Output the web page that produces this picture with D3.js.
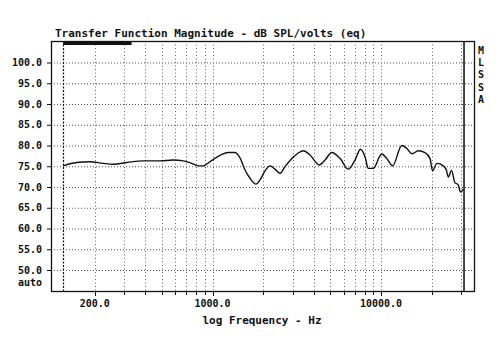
<!DOCTYPE html>
<html>
<head>
<meta charset="utf-8">
<script src="https://cdn.jsdelivr.net/npm/d3@7"></script>
<style>
  html, body { margin: 0; padding: 0; background: #fff; }
  svg { display: block; }
  text { font-family: "DejaVu Sans Mono", "Liberation Mono", monospace; font-weight: bold; fill: #111; }
</style>
</head>
<body>
<svg id="chart" width="500" height="350"></svg>
<script>
// ---- data ----
const title = "Transfer Function Magnitude - dB SPL/volts (eq)";
const xAxisTitle = "log Frequency - Hz";
const sideLabel = ["M", "L", "S", "S", "A"];
const freqHz = [130, 156, 187.5, 225, 258, 310, 388, 488, 585, 671, 753, 824, 882, 967,
  1063, 1242, 1360, 1456, 1560, 1670, 1811, 1914, 2050, 2194, 2350, 2517, 2694, 2884,
  3230, 3459, 3791, 4306, 4656, 5099, 5711, 6399, 7015, 7554, 8035, 8408, 9000,
  10092, 10810, 11730, 13270, 14210, 15290, 16650, 18240, 19530, 20230, 21490, 22600,
  24320, 25080, 26200, 27480, 28640, 29640, 30780];
const magDb = [75.1, 75.9, 76.1, 75.7, 75.5, 75.9, 76.3, 76.3, 76.5, 76.3, 75.7, 75.1, 75.1, 76.1,
  77.2, 78.3, 78.3, 77.0, 74.1, 72.1, 70.7, 71.7, 73.9, 75.1, 74.3, 73.3, 74.9, 76.4,
  78.2, 78.75, 77.7, 75.3, 76.5, 78.3, 76.9, 74.3, 76.5, 79.1, 77.3, 74.5, 74.5,
  77.95, 76.9, 75.1, 80.0, 79.3, 78.0, 78.75, 78.3, 76.9, 73.9, 75.7, 75.5,
  74.3, 72.4, 74.0, 71.0, 70.6, 68.8, 69.5];
const yTicks = [50, 55, 60, 65, 70, 75, 80, 85, 90, 95, 100];
const yTickLabels = ["50.0", "55.0", "60.0", "65.0", "70.0", "75.0", "80.0", "85.0", "90.0", "95.0", "100.0"];
const yAutoLabel = "auto";
const xGridFreqs = [200, 300, 400, 500, 600, 700, 800, 900, 1000, 2000, 3000, 4000, 5000,
  6000, 7000, 8000, 9000, 10000, 20000, 30000];
const xLabeledFreqs = [200, 1000, 10000];
const xTickLabels = ["200.0", "1000.0", "10000.0"];
const startFreq = 130;
const endFreq = 31100;
const markerBar = [130, 331];

// ---- layout ----
const svg = d3.select("#chart");
const frame = { left: 51, right: 474, top: 41, bottom: 291 };

const x = d3.scaleLog().domain([1000, 10000]).range([212.5, 381]);
const y = d3.scaleLinear().domain([50, 100]).range([270, 62.5]);

// horizontal gridlines
svg.append("g").selectAll("line").data(yTicks).join("line")
  .attr("x1", frame.left).attr("x2", frame.right)
  .attr("y1", d => y(d) + 0.5).attr("y2", d => y(d) + 0.5)
  .attr("stroke", "#555").attr("stroke-width", 1).attr("stroke-dasharray", "1,2");

// vertical gridlines
svg.append("g").selectAll("line").data(xGridFreqs).join("line")
  .attr("x1", d => Math.round(x(d)) + 0.5).attr("x2", d => Math.round(x(d)) + 0.5)
  .attr("y1", frame.top).attr("y2", frame.bottom)
  .attr("stroke", "#666").attr("stroke-width", 1).attr("stroke-dasharray", "1,2.5");

// start line
svg.append("line")
  .attr("x1", Math.round(x(startFreq)) + 0.5).attr("x2", Math.round(x(startFreq)) + 0.5)
  .attr("y1", frame.top).attr("y2", frame.bottom)
  .attr("stroke", "#111").attr("stroke-width", 1.2).attr("stroke-dasharray", "2,1.5");

// end line
svg.append("line")
  .attr("x1", x(endFreq)).attr("x2", x(endFreq))
  .attr("y1", frame.top).attr("y2", frame.bottom)
  .attr("stroke", "#333").attr("stroke-width", 1.8);

// frame
svg.append("rect")
  .attr("x", frame.left + 0.5).attr("y", frame.top + 0.5)
  .attr("width", frame.right - frame.left).attr("height", frame.bottom - frame.top)
  .attr("fill", "none").attr("stroke", "#111").attr("stroke-width", 1.3);

// marker bar
svg.append("rect")
  .attr("x", x(markerBar[0])).attr("y", frame.top + 1)
  .attr("width", x(markerBar[1]) - x(markerBar[0])).attr("height", 3)
  .attr("fill", "#111");

// y ticks & labels
svg.append("g").selectAll("line").data(yTicks).join("line")
  .attr("x1", frame.left - 4).attr("x2", frame.left)
  .attr("y1", d => y(d) + 0.5).attr("y2", d => y(d) + 0.5)
  .attr("stroke", "#111");
svg.append("g").selectAll("text").data(yTicks).join("text")
  .attr("x", 42).attr("y", d => y(d) + 3.5)
  .attr("text-anchor", "end").attr("font-size", 10)
  .text((d, i) => yTickLabels[i]);
svg.append("text").attr("x", 42).attr("y", 286)
  .attr("text-anchor", "end").attr("font-size", 10).text(yAutoLabel);

// x ticks & labels
svg.append("g").selectAll("line").data(xGridFreqs).join("line")
  .attr("x1", d => Math.round(x(d)) + 0.5).attr("x2", d => Math.round(x(d)) + 0.5)
  .attr("y1", frame.bottom).attr("y2", d => frame.bottom + (xLabeledFreqs.includes(d) ? 5 : 4))
  .attr("stroke", "#111");
svg.append("g").selectAll("text").data(xLabeledFreqs).join("text")
  .attr("x", d => x(d)).attr("y", 307)
  .attr("text-anchor", "middle").attr("font-size", 10)
  .text((d, i) => xTickLabels[i]);

// axis title
svg.append("text").attr("x", 262).attr("y", 324)
  .attr("text-anchor", "middle").attr("font-size", 11).text(xAxisTitle);

// chart title
svg.append("text").attr("x", 55).attr("y", 37)
  .attr("text-anchor", "start").attr("font-size", 11).text(title);

// side label
svg.append("g").selectAll("text").data(sideLabel).join("text")
  .attr("x", 481).attr("y", (d, i) => 54 + i * 12.2)
  .attr("text-anchor", "middle").attr("font-size", 10).text(d => d);

// data line
const pts = freqHz.map((f, i) => [f, magDb[i]]);
svg.append("path").datum(pts)
  .attr("fill", "none").attr("stroke", "#111").attr("stroke-width", 1.4)
  .attr("stroke-linejoin", "round")
  .attr("d", d3.line().x(d => x(d[0])).y(d => y(d[1])).curve(d3.curveMonotoneX));
</script>
</body>
</html>
